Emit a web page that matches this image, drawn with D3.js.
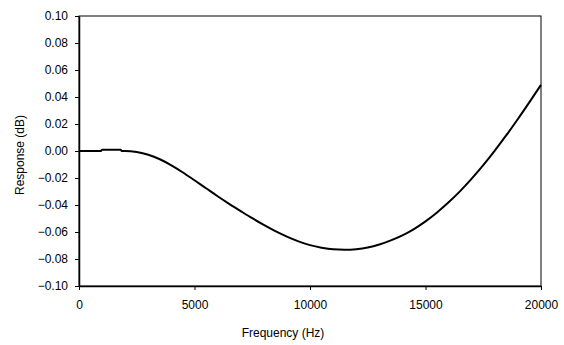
<!DOCTYPE html>
<html>
<head>
<meta charset="utf-8">
<script src="https://cdn.jsdelivr.net/npm/d3@7"></script>
<style>
  body { margin: 0; background: #fff; }
  svg { display: block; font-family: "Liberation Sans", Arial, sans-serif; }
</style>
</head>
<body>
<div id="chart"></div>
<script>
// frequency (Hz) and response (dB)
var freq = [0, 500, 950, 1000, 1800, 1850, 2000, 2500, 3000, 3500, 4000, 4500, 5000, 5500, 6000, 6500, 7000, 7500,
            8000, 8500, 9000, 9500, 10000, 10500, 11000, 11500, 12000, 12500, 13000, 13500, 14000, 14500,
            15000, 15500, 16000, 16500, 17000, 17500, 18000, 18500, 19000, 19500, 20000];
var response = [0, 0, 0, 0.001, 0.001, 0, 0, -0.0008, -0.0028, -0.0061, -0.0106, -0.0159, -0.0217, -0.0276, -0.0335, -0.0391, -0.0445, -0.0498,
                -0.0548, -0.0594, -0.0634, -0.0669, -0.0697, -0.0716, -0.0728, -0.0731, -0.0727, -0.0715, -0.0693, -0.0662, -0.0625, -0.0578,
                -0.0521, -0.0455, -0.0380, -0.0297, -0.0205, -0.0105, 0.0003, 0.0117, 0.0237, 0.0362, 0.049];

var xTicks = [0, 5000, 10000, 15000, 20000];
var yTicks = [-0.10, -0.08, -0.06, -0.04, -0.02, 0.00, 0.02, 0.04, 0.06, 0.08, 0.10];

var width = 564, height = 345;
var margin = {top: 16, right: 23, bottom: 59, left: 79};
var w = width - margin.left - margin.right,
    h = height - margin.top - margin.bottom;

var svg = d3.select("#chart").append("svg")
    .attr("width", width)
    .attr("height", height);

var g = svg.append("g")
    .attr("transform", "translate(" + margin.left + "," + margin.top + ")");

var x = d3.scaleLinear().domain([0, 20000]).range([0, w]);
var y = d3.scaleLinear().domain([-0.1, 0.1]).range([h, 0]);

// frame
g.append("rect")
    .attr("width", w)
    .attr("height", h)
    .attr("fill", "none")
    .attr("stroke", "#000")
    .attr("stroke-width", 1);

var xAxis = g.append("g")
    .attr("transform", "translate(0," + h + ")")
    .call(d3.axisBottom(x).tickValues(xTicks).tickFormat(d3.format("d")).tickSizeInner(4).tickSizeOuter(0).tickPadding(10));

var yAxis = g.append("g")
    .call(d3.axisLeft(y).tickValues(yTicks).tickFormat(d3.format(".2f")).tickSizeInner(4).tickSizeOuter(0).tickPadding(7));

[xAxis, yAxis].forEach(function(a) {
  a.select(".domain").attr("stroke", "#000").attr("stroke-width", 1.5);
  a.selectAll("line").attr("stroke", "#000");
  a.selectAll("text").attr("font-size", 12).attr("fill", "#000")
    .attr("font-family", "'Liberation Sans', Arial, sans-serif");
});

var line = d3.line()
    .x(function(d, i) { return x(freq[i]); })
    .y(function(d) { return y(d); })
    .curve(d3.curveMonotoneX);

g.append("path")
    .datum(response)
    .attr("fill", "none")
    .attr("stroke", "#000")
    .attr("stroke-width", 2)
    .attr("d", line);

svg.append("text")
    .attr("x", 283)
    .attr("y", 337)
    .attr("text-anchor", "middle")
    .attr("font-size", 12)
    .text("Frequency (Hz)");

svg.append("text")
    .attr("transform", "translate(24,155) rotate(-90)")
    .attr("text-anchor", "middle")
    .attr("font-size", 12)
    .text("Response (dB)");
</script>
</body>
</html>
